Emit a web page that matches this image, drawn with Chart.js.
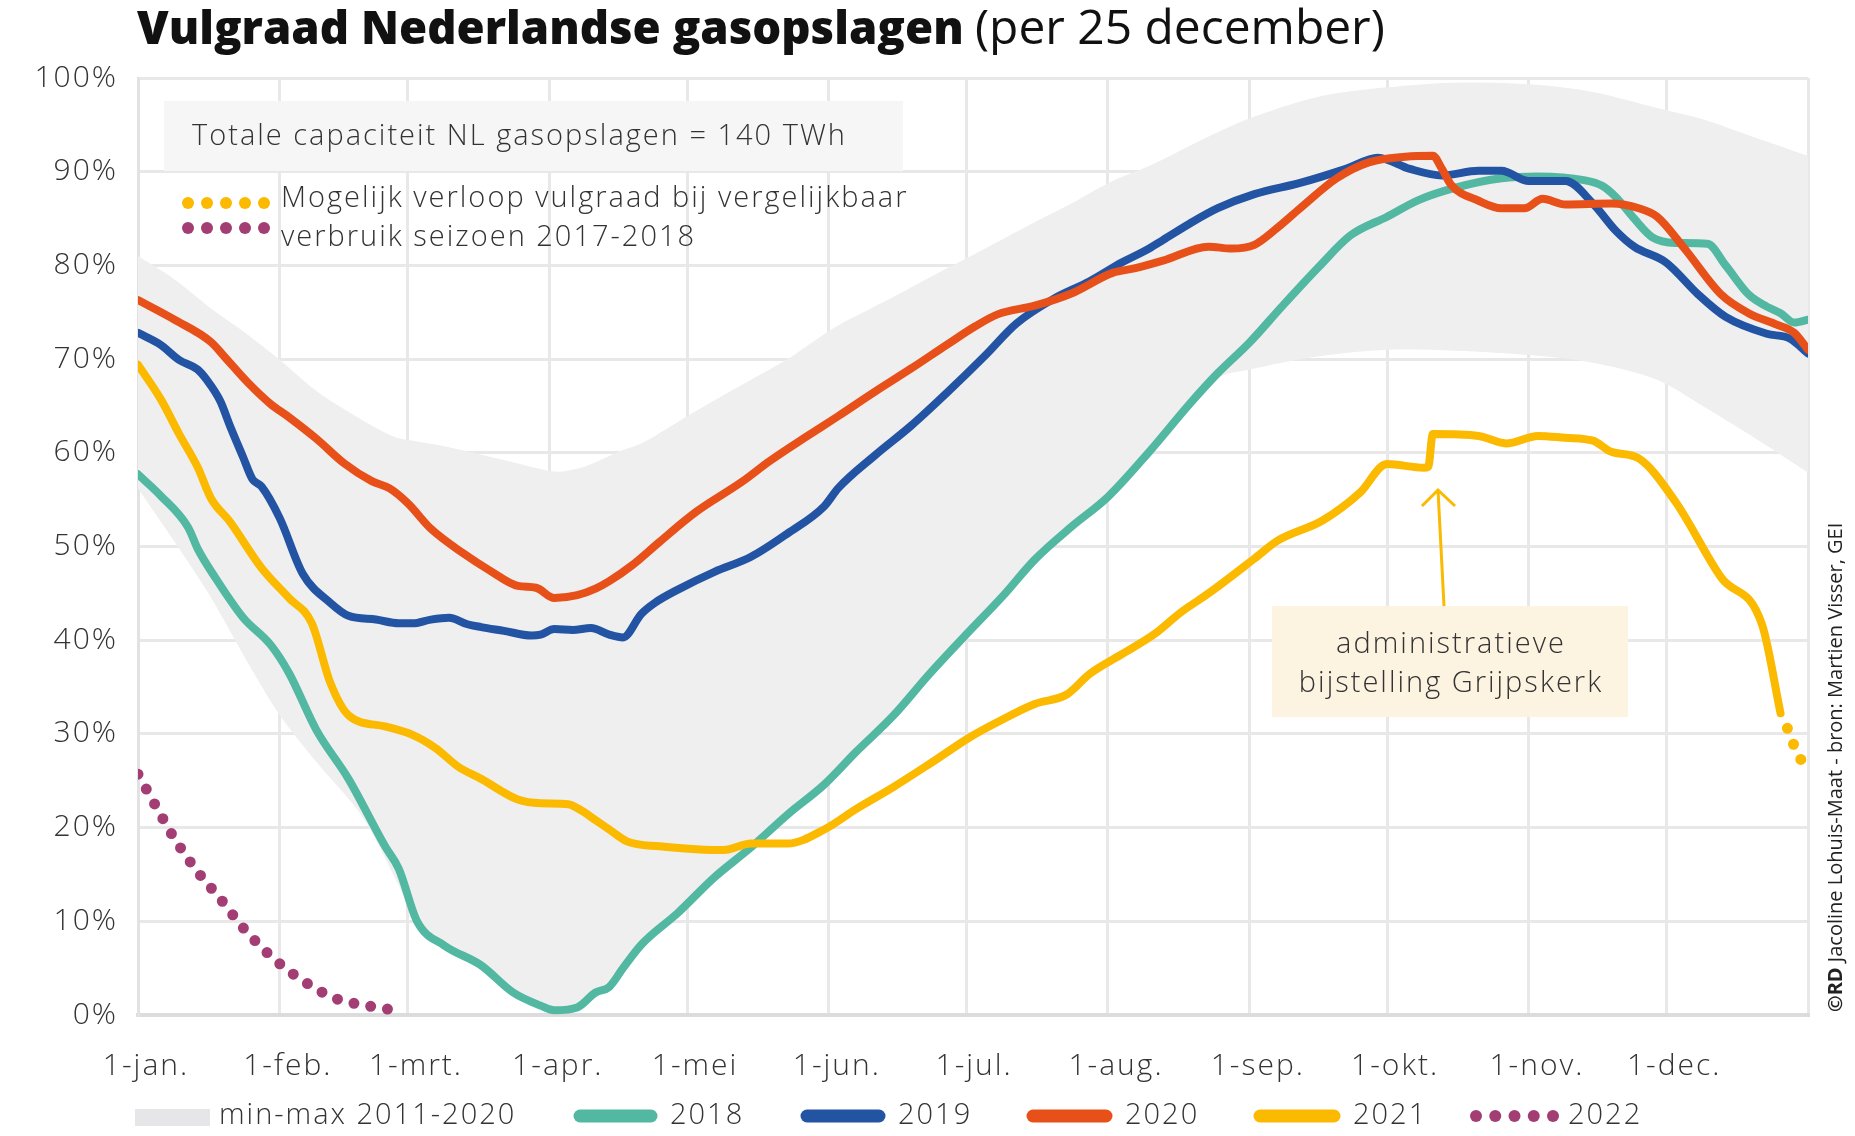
<!DOCTYPE html>
<html lang="nl">
<head>
<meta charset="UTF-8">
<title>Vulgraad Nederlandse gasopslagen</title>
<style>
  html, body { margin: 0; padding: 0; background: #fff; }
  #wrap { width: 1855px; height: 1136px; }
</style>
</head>
<body>
<div id="wrap"><canvas id="chart" width="1855" height="1136"></canvas></div>
<script src="https://cdn.jsdelivr.net/npm/chart.js@4"></script>
<script>
// x axis = day of the year (0 = 1 jan)
const monthDays = [0, 31, 59, 90, 120, 151, 181, 212, 243, 273, 304, 334, 365];
const monthLabels = ['1-jan.', '1-feb.', '1-mrt.', '1-apr.', '1-mei', '1-jun.', '1-jul.', '1-aug.', '1-sep.', '1-okt.', '1-nov.', '1-dec.', ''];

// min-max band 2011-2020 (% full)
const bandDays = [0, 8, 16, 24, 31, 39, 49, 56, 61, 67, 75, 82, 91, 96, 100, 106, 110, 118, 126, 134, 142, 152, 165, 173, 182, 189, 196, 204, 213, 221, 230, 236, 243, 258, 273, 288, 305, 318, 332, 342, 352, 365];
const bandMin = [56.2, 50.5, 44.5, 37.6, 32, 27, 21.2, 14.8, 10, 7.2, 5.1, 2.2, 0.3, 0.6, 2.2, 4.8, 7.3, 10.7, 14.5, 17.7, 21.2, 25.3, 31.7, 36.2, 41, 44.5, 48.4, 51.9, 55.6, 59.9, 65, 68, 68.9, 70.3, 71, 70.9, 70.4, 69.6, 67.8, 65, 62, 57.9];
const bandMax = [81, 78.5, 75.4, 72.6, 69.9, 66.6, 63.5, 61.7, 61.2, 60.7, 59.8, 59, 58, 58.3, 59, 60.3, 61, 63.3, 65.6, 67.8, 70, 73.3, 76.6, 78.7, 81, 82.8, 84.6, 86.6, 89, 90.6, 92.8, 94.2, 95.7, 98, 99, 99.5, 99.3, 98.5, 96.8, 95.6, 93.9, 91.7];

const days2018 = [0, 5, 11, 13, 17, 23, 29, 33, 39, 46, 54, 57, 61, 67, 75, 82, 88, 91, 96, 100, 103, 106, 110, 118, 126, 134, 142, 150, 157, 165, 173, 181, 189, 196, 204, 212, 221, 230, 236, 243, 250, 258, 265, 273, 280, 288, 298, 306, 316, 320, 323, 327, 331, 336, 343, 347, 352, 356, 359, 362, 365];
const fill2018 = [57.7, 55.4, 52, 49.8, 46.6, 42.4, 39.5, 36.5, 30.4, 25.2, 18, 15.6, 10, 7.4, 5.3, 2.4, 1, 0.5, 0.8, 2.4, 3, 5, 7.5, 10.9, 14.7, 17.9, 21.4, 24.6, 28.1, 31.9, 36.4, 40.6, 44.7, 48.6, 52.1, 55.3, 60.1, 65.3, 68.5, 71.8, 75.6, 79.8, 83.2, 85.2, 87, 88.3, 89.3, 89.5, 89.1, 88.5, 87.3, 85, 83, 82.4, 82.3, 80, 76.9, 75.6, 74.9, 73.9, 74.2];

const days2019 = [0, 5, 9, 13, 15, 18, 20, 23, 25, 27, 31, 36, 42, 46, 52, 57, 60, 64, 68, 72, 75, 80, 86, 88, 91, 95, 99, 103, 106, 110, 113, 118, 126, 134, 142, 150, 153, 161, 169, 177, 185, 192, 200, 208, 215, 221, 224, 230, 236, 244, 254, 264, 271, 278, 285, 293, 298, 304, 312, 318, 323, 327, 334, 341, 347, 356, 361, 365];
const fill2019 = [72.8, 71.5, 69.9, 68.9, 67.8, 65.5, 63, 59.5, 57.2, 56.4, 53, 47.1, 44, 42.6, 42.2, 41.8, 41.8, 42.2, 42.4, 41.7, 41.4, 41, 40.5, 40.6, 41.2, 41.1, 41.3, 40.6, 40.3, 42.8, 44, 45.4, 47.3, 48.9, 51.4, 54.3, 56.2, 59.7, 62.9, 66.5, 70.3, 73.8, 76.4, 78.3, 80.3, 81.8, 82.7, 84.5, 86.1, 87.6, 88.8, 90.3, 91.5, 90.3, 89.6, 90.1, 90.1, 89, 89, 86.6, 83.7, 82, 80.3, 76.9, 74.5, 72.7, 72.2, 70.6];

const days2020 = [0, 8, 16, 19, 24, 29, 33, 39, 45, 51, 55, 59, 64, 71, 77, 83, 87, 91, 96, 100, 103, 108, 114, 122, 132, 138, 146, 153, 161, 169, 177, 183, 188, 196, 204, 213, 218, 224, 234, 239, 244, 249, 254, 262, 269, 277, 283, 285, 287, 293, 298, 303, 307, 312, 322, 328, 332, 338, 346, 352, 358, 362, 365];
const fill2020 = [76.3, 74.2, 71.8, 70.2, 67.5, 65.2, 63.8, 61.5, 58.9, 57, 56.2, 54.6, 51.9, 49.3, 47.4, 45.8, 45.6, 44.5, 44.8, 45.5, 46.3, 48, 50.5, 53.7, 56.9, 59.1, 61.7, 63.9, 66.5, 69, 71.6, 73.5, 74.8, 75.7, 77, 79.2, 79.7, 80.5, 82, 81.8, 82.2, 84, 86.1, 89.3, 91, 91.6, 91.7, 90.3, 88.6, 86.9, 86.1, 86.1, 87.1, 86.5, 86.6, 86.1, 85.2, 81.8, 76.9, 74.9, 73.7, 72.8, 71];

const days2021 = [0, 5, 9, 13, 16, 20, 27, 33, 38, 42, 46, 54, 60, 65, 70, 75, 83, 88, 94, 97, 100, 103, 107, 114, 122, 128, 134, 142, 150, 157, 165, 173, 182, 188, 196, 203, 208, 215, 222, 228, 234, 244, 249, 259, 267, 273, 281, 282, 283, 293, 299, 306, 312, 318, 322, 328, 336, 346, 355, 359];
const fill2021 = [69.4, 65.7, 62, 58.5, 55.1, 52.7, 47.7, 44.5, 41.8, 35.5, 32, 30.8, 29.9, 28.5, 26.5, 25.2, 23, 22.6, 22.5, 21.8, 20.8, 19.8, 18.5, 18, 17.7, 17.6, 18.3, 18.3, 19.8, 22, 24.3, 26.8, 29.7, 31.3, 33.2, 34.2, 36.4, 38.5, 40.6, 43, 45, 48.7, 50.6, 52.8, 55.7, 58.8, 58.4, 58.5, 62, 61.8, 61, 61.8, 61.6, 61.3, 60.1, 59.4, 54.8, 46.7, 41.6, 32.2];

// possible course at 2017-2018 consumption
const daysProj2021 = [360.5, 362, 363.6];
const fillProj2021 = [30.6, 28.7, 27.1];
const days2022 = [0, 4, 8, 13, 18, 23, 29, 35, 43, 50, 55];
const fill2022 = [25.7, 22.2, 18.8, 15.3, 12.4, 9.3, 6.3, 4, 1.8, 1, 0.6];

const C = {
  band: '#efefef', y2018: '#52b8a2', y2019: '#2354a4', y2020: '#e8501a',
  y2021: '#fbb900', y2022: '#a23e74', text: '#333333', grid: '#e8e8e8'
};
const FONT = '"Open Sans", Lato, sans-serif';
const TRACK = '2px';

function pts(days, vals) { return days.map((d, i) => ({ x: d, y: vals[i] })); }

function lineSet(label, days, vals, color, order) {
  return {
    label, data: pts(days, vals), borderColor: color, backgroundColor: color,
    borderWidth: 8, pointRadius: 0, fill: false, order,
    cubicInterpolationMode: 'monotone', borderCapStyle: 'round', borderJoinStyle: 'round'
  };
}
function dotSet(label, days, vals, color, order) {
  const s = lineSet(label, days, vals, color, order);
  s.borderWidth = 11; s.borderDash = [0, 17];
  return s;
}

function dots(ctx, x0, x1, y, n, r, color) {
  ctx.fillStyle = color;
  for (let i = 0; i < n; i++) {
    ctx.beginPath();
    ctx.arc(x0 + (x1 - x0) * i / (n - 1), y, r, 0, Math.PI * 2);
    ctx.fill();
  }
}

// draw text with its font size chosen to fill a given width
function fitText(ctx, txt, x, y, weight, width) {
  ctx.font = weight + ' 40px ' + FONT;
  const size = 40 * width / ctx.measureText(txt).width;
  ctx.font = weight + ' ' + size.toFixed(1) + 'px ' + FONT;
  ctx.fillText(txt, x, y);
}

const extras = {
  id: 'extras',
  beforeDraw(chart) {
    chart.ctx.letterSpacing = TRACK;
  },
  beforeDatasetsDraw(chart) {
    const ctx = chart.ctx;
    ctx.save();
    ctx.fillStyle = '#f6f6f6';
    ctx.fillRect(164, 101, 739, 70);
    ctx.restore();
  },
  afterDraw(chart) {
    const ctx = chart.ctx;
    ctx.save();
    ctx.textBaseline = 'alphabetic';
    // title
    ctx.letterSpacing = '0px';
    ctx.fillStyle = '#111';
    fitText(ctx, 'Vulgraad Nederlandse gasopslagen', 137, 44, '800', 826);
    fitText(ctx, '(per 25 december)', 975, 44, '400', 410);

    // info box
    ctx.letterSpacing = TRACK;
    ctx.fillStyle = C.text;
    ctx.textBaseline = 'middle';
    ctx.font = '300 29px ' + FONT;
    ctx.fillText('Totale capaciteit NL gasopslagen = 140 TWh', 192, 137);
    dots(ctx, 188, 264, 203, 5, 6, C.y2021);
    dots(ctx, 188, 264, 228, 5, 6, C.y2022);
    ctx.fillStyle = C.text;
    ctx.fillText('Mogelijk verloop vulgraad bij vergelijkbaar', 281, 199);
    ctx.fillText('verbruik seizoen 2017-2018', 281, 238);

    // annotation
    ctx.fillStyle = '#fcf3e1';
    ctx.fillRect(1272, 606, 356, 111);
    ctx.fillStyle = C.text;
    ctx.textAlign = 'center';
    ctx.fillText('administratieve', 1451, 645);
    ctx.fillText('bijstelling Grijpskerk', 1451, 684);
    ctx.strokeStyle = C.y2021;
    ctx.lineWidth = 3;
    ctx.beginPath();
    ctx.moveTo(1444, 606); ctx.lineTo(1438, 490);
    ctx.moveTo(1422, 506); ctx.lineTo(1438, 490); ctx.lineTo(1455, 506);
    ctx.stroke();

    // legend
    ctx.textAlign = 'left';
    ctx.font = '300 29px ' + FONT;
    const ly = 1116;
    ctx.fillStyle = '#e6e6e8';
    ctx.fillRect(135, ly - 7, 75, 17);
    ctx.fillStyle = C.text;
    ctx.fillText('min-max 2011-2020', 219, ly);
    const items = [[574, 657, C.y2018, '2018'], [801, 885, C.y2019, '2019'], [1027, 1112, C.y2020, '2020'], [1254, 1340, C.y2021, '2021']];
    ctx.lineCap = 'round';
    items.forEach(([a, b, col, txt]) => {
      ctx.strokeStyle = col; ctx.lineWidth = 13;
      ctx.beginPath(); ctx.moveTo(a + 6, ly); ctx.lineTo(b - 6, ly); ctx.stroke();
      ctx.fillStyle = C.text;
      ctx.fillText(txt, b + 13, ly);
    });
    dots(ctx, 1476, 1553, ly, 5, 6, C.y2022);
    ctx.fillStyle = C.text;
    ctx.fillText('2022', 1568, ly);

    // credit, rotated
    ctx.letterSpacing = '0px';
    ctx.translate(1836, 1012);
    ctx.rotate(-Math.PI / 2);
    ctx.textAlign = 'left';
    ctx.font = 'bold 20px ' + FONT;
    ctx.fillStyle = '#222';
    ctx.fillText('©RD', 0, 0);
    const wc = ctx.measureText('©RD ').width;
    ctx.font = '20px ' + FONT;
    ctx.fillText('Jacoline Lohuis-Maat - bron: Martien Visser, GEI', wc, 0);
    ctx.restore();
  }
};

new Chart(document.getElementById('chart'), {
  type: 'line',
  data: {
    datasets: [
      { label: 'min', data: pts(bandDays, bandMin), borderWidth: 0, pointRadius: 0, fill: false, order: 20, tension: 0.3 },
      { label: 'min-max 2011-2020', data: pts(bandDays, bandMax), borderWidth: 0, pointRadius: 0, fill: '-1', backgroundColor: C.band, order: 19, tension: 0.3 },
      lineSet('2018', days2018, fill2018, C.y2018, 5),
      lineSet('2019', days2019, fill2019, C.y2019, 4),
      lineSet('2020', days2020, fill2020, C.y2020, 3),
      lineSet('2021', days2021, fill2021, C.y2021, 2),
      dotSet('2021 prognose', daysProj2021, fillProj2021, C.y2021, 1),
      dotSet('2022', days2022, fill2022, C.y2022, 1)
    ]
  },
  options: {
    responsive: false,
    animation: false,
    layout: { padding: { left: 0, right: 47, top: 78, bottom: 0 } },
    plugins: { legend: { display: false }, tooltip: { enabled: false }, title: { display: false } },
    scales: {
      x: {
        type: 'linear', min: 0, max: 365,
        afterFit: s => { s.height = 121; },
        afterBuildTicks: s => { s.ticks = monthDays.map(v => ({ value: v })); },
        ticks: {
          autoSkip: false, maxRotation: 0, padding: 33, labelOffset: 8,
          color: C.text, font: { family: FONT, size: 30, weight: '300' },
          callback: v => monthLabels[monthDays.indexOf(v)]
        },
        grid: { color: C.grid, lineWidth: 3, drawTicks: false },
        border: { color: '#dcdcdc', width: 4 }
      },
      y: {
        min: 0, max: 100,
        afterFit: s => { s.width = 138; },
        ticks: {
          stepSize: 10, padding: 20, color: C.text,
          font: { family: FONT, size: 30, weight: '300' },
          callback: v => v + '%'
        },
        grid: { color: C.grid, lineWidth: 3, drawTicks: false },
        border: { color: '#e2e2e2', width: 3 }
      }
    }
  },
  plugins: [extras]
});
</script>
</body>
</html>
